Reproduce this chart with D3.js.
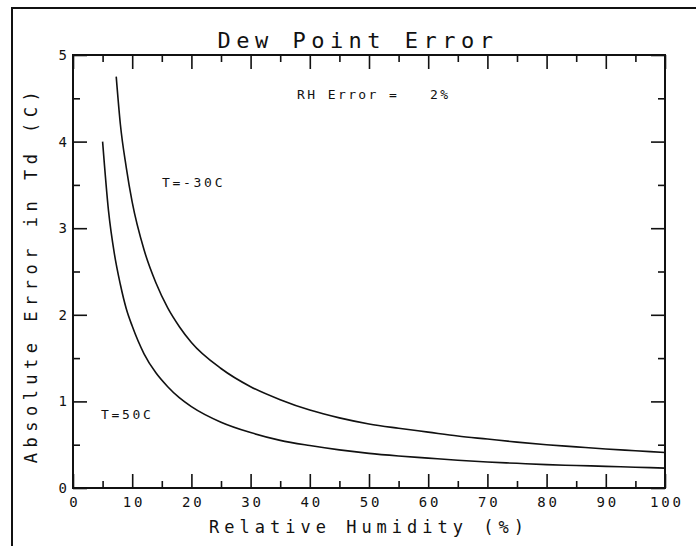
<!DOCTYPE html>
<html><head><meta charset="utf-8">
<script src="https://cdn.jsdelivr.net/npm/d3@7"></script>
<style>
html,body{margin:0;padding:0;background:#fff;}
svg text{font-family:"DejaVu Sans Mono",monospace;fill:#111;white-space:pre;}
</style></head>
<body>
<svg id="c" width="696" height="546"></svg>
<script>
// ---- data ----
const xTicks = [0,10,20,30,40,50,60,70,80,90,100];
const yTicks = [0,1,2,3,4,5];
const rhCold = [7.3,8,9,10,12,14,16,18,20,25,30,35,40,45,50,55,60,65,70,75,80,85,90,95,100];
const errCold = [4.75,4.2,3.7,3.3,2.75,2.37,2.08,1.86,1.68,1.38,1.17,1.02,0.90,0.81,0.74,0.69,0.645,0.60,0.565,0.53,0.50,0.475,0.45,0.43,0.41];
const rhHot = [5,6,7,8,9,10,12,14,16,18,20,25,30,35,40,45,50,55,60,65,70,75,80,85,90,95,100];
const errHot = [4.0,3.2,2.7,2.35,2.07,1.87,1.55,1.33,1.17,1.04,0.94,0.76,0.64,0.55,0.49,0.44,0.40,0.37,0.345,0.32,0.30,0.285,0.27,0.26,0.25,0.24,0.23];
const titleText = "Dew Point Error";
const xTitle = "Relative Humidity (%)";
const yTitle = "Absolute Error in Td (C)";
const noteText = "RH Error =   2%";
const labelCold = "T=-30C";
const labelHot = "T=50C";

// ---- layout ----
const svg = d3.select("#c");
const L = 73, R = 665, T = 55, B = 488;
const x = d3.scaleLinear().domain([0,100]).range([L,R]);
const y = d3.scaleLinear().domain([0,5]).range([B,T]);

// outer border (left + top)
svg.append("path").attr("d",`M12,546 L12,8 L696,8`).attr("fill","none").attr("stroke","#111").attr("stroke-width",2);

// plot frame
svg.append("rect").attr("x",L).attr("y",T).attr("width",R-L).attr("height",B-T)
  .attr("fill","none").attr("stroke","#111").attr("stroke-width",2);

const minorX = d3.range(5,100,10);
const minorY = d3.range(0.5,5,1);
const maj = 14, mnr = 7;
function axisStyle(g){ g.select(".domain").remove(); g.selectAll("line").attr("stroke","#111").attr("stroke-width",1.6); }

// bottom axis with labels
const gB = svg.append("g").attr("transform",`translate(0,${B})`)
  .call(d3.axisBottom(x).tickValues(xTicks).tickSize(-maj).tickPadding(9).tickFormat(d3.format("d")));
axisStyle(gB);
gB.selectAll("text").attr("font-size",14).attr("letter-spacing",2.8).attr("dx","1.4").attr("fill","#111");
svg.append("g").attr("transform",`translate(0,${B})`).call(d3.axisBottom(x).tickValues(minorX).tickSize(-mnr).tickFormat("")).call(axisStyle);
// top
svg.append("g").attr("transform",`translate(0,${T})`).call(d3.axisTop(x).tickValues(xTicks).tickSize(-maj).tickFormat("")).call(axisStyle);
svg.append("g").attr("transform",`translate(0,${T})`).call(d3.axisTop(x).tickValues(minorX).tickSize(-mnr).tickFormat("")).call(axisStyle);
// left
const gL = svg.append("g").attr("transform",`translate(${L},0)`)
  .call(d3.axisLeft(y).tickValues(yTicks).tickSize(-maj).tickPadding(6).tickFormat(d3.format("d")));
axisStyle(gL);
gL.selectAll("text").attr("font-size",14).attr("fill","#111");
svg.append("g").attr("transform",`translate(${L},0)`).call(d3.axisLeft(y).tickValues(minorY).tickSize(-mnr).tickFormat("")).call(axisStyle);
// right
svg.append("g").attr("transform",`translate(${R},0)`).call(d3.axisRight(y).tickValues(yTicks).tickSize(-maj).tickFormat("")).call(axisStyle);
svg.append("g").attr("transform",`translate(${R},0)`).call(d3.axisRight(y).tickValues(minorY).tickSize(-mnr).tickFormat("")).call(axisStyle);

// curves
const line = d3.line().x(d=>x(d[0])).y(d=>y(d[1])).curve(d3.curveMonotoneX);
svg.append("path").datum(rhCold.map((r,i)=>[r,errCold[i]])).attr("d",line)
  .attr("fill","none").attr("stroke","#111").attr("stroke-width",1.6);
svg.append("path").datum(rhHot.map((r,i)=>[r,errHot[i]])).attr("d",line)
  .attr("fill","none").attr("stroke","#111").attr("stroke-width",1.6);

// titles
svg.append("text").attr("x",358).attr("y",48).attr("text-anchor","middle")
  .attr("font-size",22).attr("letter-spacing",5.5).text(titleText);
svg.append("text").attr("x",369).attr("y",533).attr("text-anchor","middle")
  .attr("font-size",17).attr("letter-spacing",5).text(xTitle);
svg.append("text").attr("transform",`translate(37,${(T+B)/2+3}) rotate(-90)`).attr("text-anchor","middle")
  .attr("font-size",17).attr("letter-spacing",5.5).text(yTitle);

// annotations
svg.append("text").attr("x",297).attr("y",99).attr("font-size",13).attr("letter-spacing",2.4).text(noteText);
svg.append("text").attr("x",162).attr("y",187).attr("font-size",13).attr("letter-spacing",2.7).text(labelCold);
svg.append("text").attr("x",101).attr("y",419).attr("font-size",13).attr("letter-spacing",2.7).text(labelHot);
</script>
</body></html>
